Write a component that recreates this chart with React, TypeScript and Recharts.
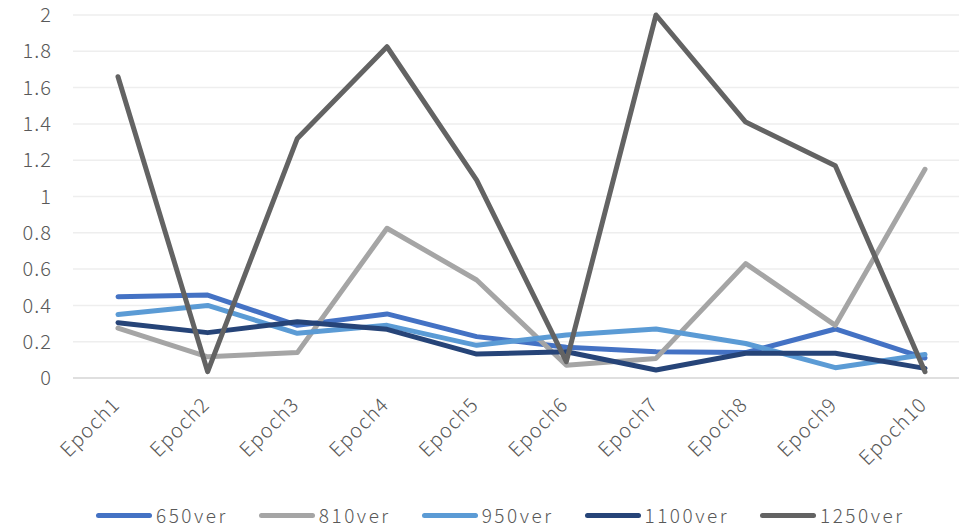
import { LineChart, Line, XAxis, YAxis, CartesianGrid } from "recharts"

const epochs = ["Epoch1", "Epoch2", "Epoch3", "Epoch4", "Epoch5", "Epoch6", "Epoch7", "Epoch8", "Epoch9", "Epoch10"]

const v650 = [0.448, 0.457, 0.29, 0.353, 0.228, 0.17, 0.145, 0.14, 0.27, 0.11]
const v810 = [0.275, 0.117, 0.14, 0.825, 0.54, 0.07, 0.108, 0.63, 0.29, 1.15]
const v950 = [0.35, 0.4, 0.246, 0.29, 0.18, 0.237, 0.27, 0.19, 0.057, 0.13]
const v1100 = [0.305, 0.25, 0.31, 0.268, 0.132, 0.145, 0.044, 0.136, 0.136, 0.053]
const v1250 = [1.66, 0.035, 1.32, 1.825, 1.09, 0.09, 2.0, 1.41, 1.17, 0.035]

const yTicks = [0, 0.2, 0.4, 0.6, 0.8, 1, 1.2, 1.4, 1.6, 1.8, 2]

const series = [
    { key: "650ver", color: "#4472c4" },
    { key: "810ver", color: "#a5a5a5" },
    { key: "950ver", color: "#5b9bd5" },
    { key: "1100ver", color: "#264478" },
    { key: "1250ver", color: "#636363" },
]

const data = epochs.map((name, i) => ({
    name,
    "650ver": v650[i],
    "810ver": v810[i],
    "950ver": v950[i],
    "1100ver": v1100[i],
    "1250ver": v1250[i],
}))

const font = "'Noto Sans CJK KR', 'Noto Sans', sans-serif"

function EpochTick({ x, y, payload }: any) {
    const ax = x + 3
    const ay = y + 20
    return (
        <text
            x={ax}
            y={ay}
            textAnchor="end"
            fill="#595959"
            fontSize={20}
            fontWeight={300}
            letterSpacing={1}
            fontFamily={font}
            transform={`rotate(-45, ${ax}, ${ay})`}
        >
            {payload.value}
        </text>
    )
}

export default function App() {
    return (
        <div style={{ position: "absolute", left: 0, top: 0, width: 959, height: 529, overflow: "hidden", background: "#fff" }}>
            <LineChart
                width={980}
                height={529}
                data={data}
                margin={{ top: 15, right: 10, left: 0, bottom: 51 }}
            >
                <CartesianGrid vertical={false} stroke="#eeeeee" strokeWidth={1.5} />
                <XAxis
                    dataKey="name"
                    height={100}
                    padding={{ left: 45, right: 45 }}
                    axisLine={{ stroke: "#d9d9d9", strokeWidth: 1.5 }}
                    tickLine={false}
                    tick={<EpochTick />}
                    interval={0}
                />
                <YAxis
                    width={73}
                    domain={[0, 2]}
                    ticks={yTicks}
                    axisLine={false}
                    tickLine={false}
                    tickSize={0}
                    tickMargin={21}
                    tick={{ fill: "#595959", fontSize: 20, fontWeight: 300, letterSpacing: 1, fontFamily: font }}
                />
                {series.map((s) => (
                    <Line
                        key={s.key}
                        dataKey={s.key}
                        stroke={s.color}
                        strokeWidth={5}
                        strokeLinejoin="round"
                        strokeLinecap="round"
                        dot={false}
                        activeDot={false}
                        isAnimationActive={false}
                    />
                ))}
            </LineChart>
            <div
                style={{
                    position: "absolute",
                    top: 503,
                    left: 96,
                    height: 24,
                    display: "flex",
                    alignItems: "center",
                    fontFamily: font,
                    fontSize: 19,
                    fontWeight: 300,
                    letterSpacing: 2.5,
                    lineHeight: "24px",
                    color: "#595959",
                    whiteSpace: "nowrap",
                }}
            >
                {series.map((s) => (
                    <div key={s.key} style={{ display: "flex", alignItems: "center", marginRight: 31 }}>
                        <span style={{ display: "inline-block", width: 56, height: 5, borderRadius: 3, background: s.color, marginRight: 4 }} />
                        <span>{s.key}</span>
                    </div>
                ))}
            </div>
        </div>
    )
}
